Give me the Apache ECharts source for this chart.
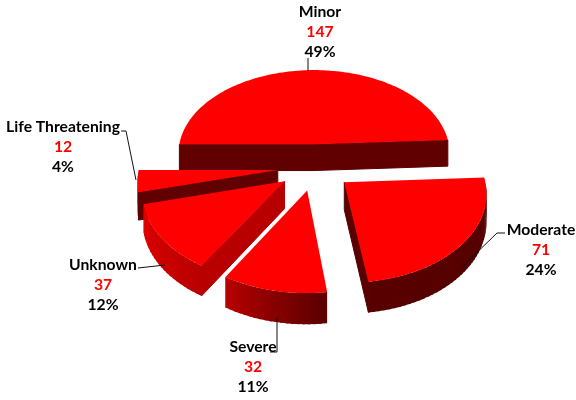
<!DOCTYPE html>
<html>
<head>
<meta charset="utf-8">
<style>html,body{margin:0;padding:0;background:#fff}#c{width:576px;height:400px}</style>
<script src="https://cdn.jsdelivr.net/npm/echarts@6/dist/echarts.min.js"></script>
</head>
<body>
<div id="c"></div>
<script>
// ---- data ----
const categories = ['Minor', 'Moderate', 'Severe', 'Unknown', 'Life Threatening'];
const counts = [147, 71, 32, 37, 12];
const percentLabels = ['49%', '24%', '11%', '12%', '4%'];

// ---- projection and style ----
const CX = 315, CY = 167, RX = 138.5, RY = 86.5, PERSP = 0.105, DEPTH = 27, EXPLODE = 0.27;
const START_CLOCK = -90;
const drawOrder = [0, 1, 4, 3, 2];
const startFace = ['#600000', null, null, '#b80000', '#600000'];
const endFace = ['#600000', '#5a0000', null, null, null];
const shadeStops = [[90, 0x55], [172, 0x58], [195, 0x90], [211, 0xb8], [255, 0xe0], [270, 0xe8]];
const labelLayout = [
  { x: 320, y: 32 }, { x: 541, y: 250 }, { x: 253, y: 367 }, { x: 103, y: 285 }, { x: 63, y: 147 }
];
const leaders = [
  [[308, 58], [308, 71]],
  [[505, 233], [497, 233], [462, 267]],
  [[270, 352], [277, 352], [277, 317]],
  [[138, 268], [165, 265]],
  [[121, 131], [126, 131], [136, 180]]
];

const total = counts.reduce((a, b) => a + b, 0);
const spans = [];
counts.reduce((acc, v) => { const e = acc + v / total * 360; spans.push([acc, e]); return e; }, START_CLOCK);

function shade(t) {
  let c = shadeStops[0][1];
  for (let i = 0; i < shadeStops.length - 1; i++) {
    const a = shadeStops[i], b = shadeStops[i + 1];
    if (t >= a[0] && t <= b[0]) c = a[1] + (b[1] - a[1]) * (t - a[0]) / (b[0] - a[0]);
  }
  if (t > 270) c = shadeStops[shadeStops.length - 1][1];
  return 'rgb(' + Math.round(c) + ',0,0)';
}
function project(x, y, z) {
  const w = 1 + PERSP * y;
  return [CX + RX * x / w, CY - RY * y / w + z / w];
}
function renderSlice(params, api) {
  const idx = api.value(0);
  const s = api.value(1), e = api.value(2);
  const mid = (s + e) / 2 * Math.PI / 180;
  const ox = EXPLODE * Math.sin(mid), oy = EXPLODE * Math.cos(mid);
  const rim = (t, z) => {
    const a = t * Math.PI / 180;
    return project(ox + Math.sin(a), oy + Math.cos(a), z);
  };
  const apex = z => project(ox, oy, z);
  const children = [];
  const poly = (points, fill, stroke) => children.push({
    type: 'polygon', shape: { points },
    style: stroke ? { fill, stroke: fill, lineWidth: 1 } : { fill }
  });
  // outer wall: overlapping shaded strips so no seams appear between them
  const a0 = Math.max(s, 90), a1 = Math.min(e, 270);
  for (let t = a0; t < a1; t += 2) {
    const n = Math.min(t + 3, a1);
    poly([rim(t, 0), rim(n, 0), rim(n, DEPTH), rim(t, DEPTH)], shade(t + 1));
  }
  // cut faces
  if (startFace[idx]) poly([apex(0), rim(s, 0), rim(s, DEPTH), apex(DEPTH)], startFace[idx], true);
  if (endFace[idx]) poly([apex(0), rim(e, 0), rim(e, DEPTH), apex(DEPTH)], endFace[idx], true);
  // top surface
  const top = [apex(0)];
  for (let t = s; t < e; t += 1.5) top.push(rim(t, 0));
  top.push(rim(e, 0));
  poly(top, '#ff0000');
  return { type: 'group', children };
}

const chart = echarts.init(document.getElementById('c'), null, { renderer: 'canvas' });
const graphic = [];
leaders.forEach(pts => graphic.push({
  type: 'polyline', shape: { points: pts }, z: 5,
  style: { stroke: '#111', lineWidth: 1, fill: null }
}));
const textStyle = fill => ({ fontFamily: 'Lato', fontWeight: 'bold', fontSize: 15.7, fill, lineHeight: 20, align: 'center' });
categories.forEach((name, i) => graphic.push({
  type: 'text', x: labelLayout[i].x, y: labelLayout[i].y, z: 6,
  style: {
    text: '{n|' + name + '}\n{v|' + counts[i] + '}\n{p|' + percentLabels[i] + '}',
    align: 'center', verticalAlign: 'middle',
    rich: { n: textStyle('#000'), v: textStyle('#ff0000'), p: textStyle('#000') }
  }
}));
chart.setOption({
  animation: false,
  backgroundColor: '#fff',
  graphic,
  series: [{
    type: 'custom',
    coordinateSystem: 'none',
    renderItem: renderSlice,
    silent: true,
    data: drawOrder.map(i => [i, spans[i][0], spans[i][1], counts[i]])
  }]
});
</script>
</body>
</html>
